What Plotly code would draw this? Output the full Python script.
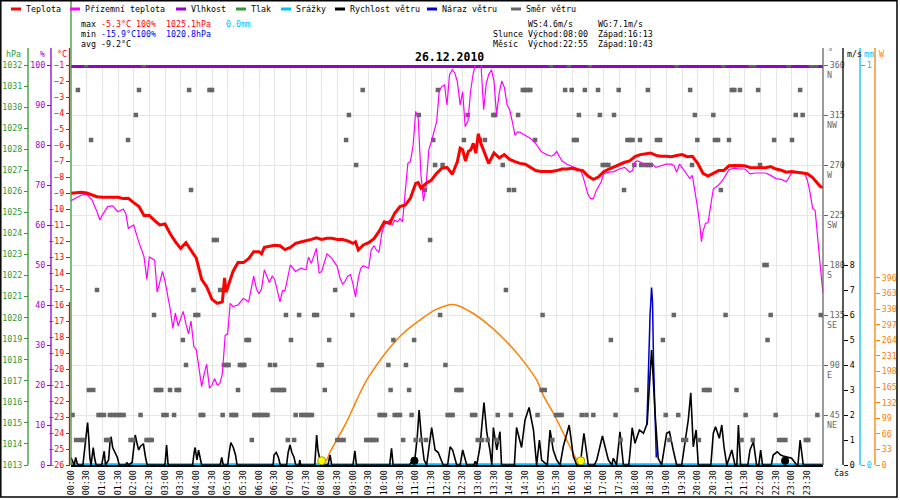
import plotly.graph_objects as go

# --- time axis labels (every 30 minutes) ---
tick_hours = [h / 2 for h in range(48)]
tick_labels = [f"{int(h):02d}:{int(round((h % 1) * 60)):02d}" for h in tick_hours]

# --- Teplota (°C) ---
temp_t = [0.0, 0.17, 0.33, 0.5, 0.67, 0.83, 1.0, 1.17, 1.33, 1.5, 1.67, 1.83, 2.0, 2.17, 2.33, 2.5,
          2.67, 2.83, 3.0, 3.17, 3.33, 3.5, 3.67, 3.83, 4.0, 4.17, 4.33, 4.5, 4.67, 4.83, 4.9, 4.95,
          5.0, 5.17, 5.33, 5.5, 5.67, 5.83, 6.0, 6.08, 6.17, 6.33, 6.5, 6.67, 6.83, 7.0, 7.17, 7.33,
          7.5, 7.67, 7.83, 8.0, 8.17, 8.33, 8.5, 8.67, 8.83, 9.0, 9.08, 9.17, 9.33, 9.5, 9.67, 9.83,
          10.0, 10.17, 10.33, 10.5, 10.67, 10.83, 11.0, 11.08, 11.17, 11.33, 11.5, 11.67, 11.83, 12.0,
          12.17, 12.33, 12.42, 12.5, 12.59, 12.68, 12.76, 12.84, 12.92, 13.0, 13.08, 13.17, 13.33,
          13.5, 13.67, 13.83, 14.0, 14.17, 14.33, 14.5, 14.67, 14.83, 15.0, 15.17, 15.33, 15.5, 15.67,
          15.83, 16.0, 16.17, 16.33, 16.5, 16.67, 16.83, 17.0, 17.17, 17.33, 17.5, 17.67, 17.83, 18.0,
          18.17, 18.33, 18.5, 18.67, 18.83, 19.0, 19.17, 19.33, 19.5, 19.67, 19.83, 20.0, 20.17, 20.33,
          20.5, 20.67, 20.83, 21.0, 21.17, 21.33, 21.5, 21.67, 21.83, 22.0, 22.17, 22.33, 22.5, 22.67,
          22.83, 23.0, 23.17, 23.33, 23.5, 23.67, 23.83, 23.92, 24.0]
temp_c = [-9.02, -9.0, -8.96, -9.0, -9.13, -9.23, -9.27, -9.27, -9.3, -9.27, -9.35, -9.33, -9.6, -9.85,
          -10.4, -10.4, -10.73, -11.0, -10.94, -11.56, -12.04, -12.46, -12.1, -12.56, -13.08, -14.4,
          -14.85, -15.65, -15.9, -15.8, -14.3, -15.2, -14.9, -13.9, -13.35, -13.35, -13.1, -12.67,
          -12.67, -12.8, -12.4, -12.35, -12.27, -12.3, -12.54, -12.4, -12.15, -12.06, -12.0, -11.9,
          -11.8, -11.9, -11.83, -11.83, -11.9, -11.9, -12.0, -12.15, -12.05, -12.56, -12.25, -12.1,
          -11.85, -11.4, -10.8, -10.9, -10.27, -9.85, -9.75, -9.33, -8.4, -8.35, -8.7, -8.4, -8.2,
          -7.77, -7.46, -7.4, -7.83, -7.04, -6.2, -6.3, -7.0, -6.4, -6.3, -5.9, -6.5, -5.3, -5.9,
          -6.4, -7.15, -6.5, -6.8, -6.6, -6.9, -7.04, -7.15, -7.2, -7.4, -7.6, -7.65, -7.65, -7.65,
          -7.6, -7.5, -7.5, -7.46, -7.55, -7.6, -7.94, -8.15, -8.0, -7.67, -7.5, -7.35, -7.2, -7.08,
          -7.0, -6.73, -6.6, -6.54, -6.5, -6.65, -6.7, -6.7, -6.73, -6.65, -6.6, -6.73, -6.7, -7.15,
          -7.77, -7.94, -7.77, -7.6, -7.6, -7.3, -7.28, -7.3, -7.3, -7.4, -7.42, -7.42, -7.42, -7.35,
          -7.5, -7.58, -7.7, -7.65, -7.68, -7.75, -7.8, -8.04, -8.4, -8.6, -8.65]

# --- Přízemní teplota (°C) ---
ground_t = [0.0, 0.17, 0.33, 0.5, 0.67, 0.83, 0.92, 1.0, 1.17, 1.33, 1.5, 1.67, 1.75, 1.83, 2.0, 2.17,
            2.33, 2.42, 2.5, 2.67, 2.75, 2.83, 2.92, 3.0, 3.17, 3.25, 3.33, 3.42, 3.5, 3.58, 3.67,
            3.75, 3.83, 3.92, 4.0, 4.08, 4.17, 4.25, 4.33, 4.42, 4.5, 4.58, 4.67, 4.75, 4.83, 4.92,
            5.0, 5.08, 5.17, 5.33, 5.5, 5.67, 5.83, 5.92, 6.0, 6.08, 6.17, 6.33, 6.42, 6.5, 6.67,
            6.75, 6.83, 7.0, 7.17, 7.33, 7.5, 7.58, 7.67, 7.83, 7.92, 8.0, 8.08, 8.17, 8.33, 8.5,
            8.58, 8.67, 8.75, 8.83, 8.92, 9.0, 9.08, 9.17, 9.25, 9.33, 9.5, 9.58, 9.67, 9.75, 9.83,
            9.92, 10.0, 10.17, 10.25, 10.33, 10.42, 10.5, 10.58, 10.67, 10.75, 10.83, 10.92, 11.0,
            11.08, 11.17, 11.25, 11.33, 11.42, 11.5, 11.58, 11.67, 11.75, 11.83, 11.92, 12.0, 12.08,
            12.17, 12.25, 12.33, 12.42, 12.5, 12.58, 12.67, 12.75, 12.83, 12.92, 13.0, 13.08, 13.17,
            13.25, 13.33, 13.42, 13.5, 13.58, 13.67, 13.75, 13.83, 13.92, 14.0, 14.08, 14.17, 14.25,
            14.33, 14.5, 14.67, 14.83, 15.0, 15.17, 15.33, 15.42, 15.5, 15.58, 15.67, 15.83, 16.0,
            16.17, 16.25, 16.33, 16.42, 16.5, 16.58, 16.67, 16.75, 16.83, 16.92, 17.0, 17.17, 17.33,
            17.5, 17.67, 17.75, 17.83, 17.92, 18.0, 18.08, 18.17, 18.33, 18.5, 18.58, 18.67, 18.83,
            19.0, 19.17, 19.25, 19.33, 19.42, 19.5, 19.67, 19.75, 19.83, 19.92, 20.0, 20.08, 20.12,
            20.17, 20.25, 20.33, 20.42, 20.5, 20.67, 20.83, 21.0, 21.17, 21.33, 21.5, 21.58, 21.67,
            21.83, 22.0, 22.17, 22.33, 22.5, 22.67, 22.83, 23.0, 23.17, 23.33, 23.42, 23.5, 23.58,
            23.67, 23.75, 23.83, 23.92, 24.0]
ground_c = [-9.48, -9.3, -9.13, -9.08, -9.42, -10.17, -10.69, -10.38, -9.85, -9.8, -10.17, -10.0,
            -10.3, -11.2, -11.0, -12.1, -12.98, -14.4, -13.0, -13.2, -15.2, -14.6, -13.9, -14.5,
            -16.3, -17.46, -16.5, -17.3, -16.9, -16.4, -17.2, -17.8, -17.0, -18.6, -18.8, -19.85,
            -21.1, -20.3, -19.7, -21.2, -21.0, -20.6, -21.0, -20.9, -20.3, -17.9, -17.8, -15.9,
            -16.1, -16.0, -15.6, -15.8, -14.2, -15.0, -15.3, -15.0, -13.8, -14.6, -14.2, -14.4,
            -15.8, -15.1, -15.1, -13.5, -13.9, -13.7, -13.8, -13.0, -13.4, -12.46, -14.0, -13.9,
            -13.4, -12.8, -13.1, -13.6, -14.3, -14.7, -14.5, -14.2, -14.1, -14.7, -15.5, -14.3,
            -13.7, -13.55, -13.7, -12.56, -12.3, -12.56, -12.7, -11.5, -11.0, -10.7, -11.0, -10.7,
            -10.8, -10.6, -10.8, -9.1, -7.15, -7.04, -6.0, -3.9, -4.3, -7.9, -9.5, -8.6, -6.3, -5.8,
            -5.2, -4.54, -2.67, -2.35, -2.25, -3.5, -1.6, -1.3, -1.5, -2.04, -3.5, -2.67, -4.85,
            -4.5, -2.67, -1.6, -0.8, -0.9, -0.8, -3.8, -2.2, -1.6, -1.3, -2.0, -4.1, -2.7, -2.0,
            -2.4, -3.5, -3.8, -4.5, -5.4, -5.2, -5.2, -5.4, -5.6, -5.9, -6.4, -6.6, -6.7, -6.6,
            -6.4, -6.7, -7.0, -7.2, -7.35, -7.5, -7.55, -7.9, -8.5, -9.1, -9.35, -9.35, -8.9, -8.6,
            -8.3, -7.8, -7.7, -7.66, -7.5, -7.4, -7.55, -7.7, -7.6, -7.06, -7.0, -7.06, -7.25, -7.3,
            -7.25, -7.4, -7.3, -7.2, -7.2, -7.3, -7.7, -7.2, -7.4, -7.9, -8.1, -7.9, -8.9, -9.96,
            -11.2, -12.04, -11.4, -10.9, -10.85, -9.8, -8.75, -8.5, -8.1, -7.55, -7.45, -7.5, -7.5,
            -7.62, -7.8, -7.75, -7.75, -7.75, -7.9, -8.1, -8.15, -8.3, -7.75, -7.7, -7.7, -7.8,
            -8.2, -8.9, -9.96, -10.1, -11.6, -13.7, -15.27]

# --- Vlhkost (%) ---
hum_t = [0.0, 24.0]
hum_pct = [100, 100]

# --- Srážky (mm) ---
rain_t = [0.0, 24.0]
rain_mm = [0.0, 0.0]

# --- Rychlost větru (m/s) ---
wind_t = [0.0, 0.05, 0.1, 0.15, 0.2, 0.25, 0.38, 0.45, 0.5, 0.53, 0.57, 0.6, 0.64, 0.68, 0.71, 0.75,
          0.8, 0.98, 1.03, 1.06, 1.1, 1.2, 1.25, 1.28, 1.33, 1.4, 1.48, 1.54, 1.75, 1.78, 1.84, 1.95,
          2.0, 2.05, 2.1, 2.16, 2.22, 2.31, 2.38, 2.43, 3.0, 3.05, 3.1, 3.88, 3.93, 3.96, 4.02, 4.07,
          4.12, 4.17, 4.76, 4.81, 4.86, 5.0, 5.05, 5.1, 5.18, 5.25, 5.3, 6.45, 6.48, 6.55, 6.62,
          6.68, 6.88, 6.93, 6.99, 7.05, 7.12, 7.17, 7.28, 7.3, 7.33, 7.78, 7.84, 7.88, 7.93, 7.98,
          8.2, 8.27, 8.32, 9.0, 9.06, 9.11, 10.17, 10.23, 10.28, 10.8, 10.88, 10.98, 11.05, 11.11,
          11.19, 11.27, 11.35, 11.46, 11.51, 11.62, 11.72, 11.83, 11.88, 12.02, 12.1, 12.18, 12.31,
          12.42, 12.5, 12.63, 12.86, 12.9, 12.95, 13.05, 13.18, 13.27, 13.37, 13.43, 13.48, 13.59,
          13.69, 13.74, 14.15, 14.22, 14.38, 14.49, 14.62, 14.76, 14.86, 14.95, 15.02, 15.2, 15.29,
          15.39, 15.5, 15.61, 15.71, 15.9, 16.03, 16.14, 16.25, 16.37, 16.51, 16.7, 16.78, 16.96,
          17.15, 17.26, 17.31, 17.41, 17.52, 17.63, 17.8, 17.84, 17.91, 18.0, 18.14, 18.27, 18.39,
          18.45, 18.53, 18.58, 18.64, 18.74, 18.85, 19.01, 19.1, 19.22, 19.33, 19.49, 19.7, 19.78,
          19.86, 19.95, 20.02, 20.42, 20.5, 20.57, 20.69, 20.77, 20.84, 20.93, 21.03, 21.09, 21.19,
          21.25, 21.3, 21.37, 21.6, 21.67, 21.78, 21.88, 21.95, 22.01, 22.07, 22.35, 22.41, 22.54,
          22.65, 22.73, 23.0, 23.16, 23.2, 23.27, 23.37, 24.0]
wind_ms = [0.3, 0.1, 0.0, 0.3, 0.05, 0.0, 0.0, 0.8, 1.5, 1.7, 1.0, 0.3, 0.0, 0.5, 0.7, 0.3,
           0.0, 0.0, 0.4, 0.55, 0.0, 0.2, 1.0, 1.13, 0.7, 0.5, 0.3, 0.0, 0.0, 0.1, 0.0, 0.1,
           0.6, 1.2, 0.9, 0.6, 0.75, 0.85, 0.3, 0.0, 0.0, 0.8, 0.0, 0.0, 0.5, 0.7, 0.2, 0.6,
           0.3, 0.0, 0.0, 0.3, 0.0, 0.0, 0.5, 0.9, 0.7, 0.4, 0.0, 0.0, 0.4, 0.5, 0.3,
           0.0, 0.0, 0.5, 0.8, 0.5, 0.3, 0.0, 0.0, 0.2, 0.0, 0.0, 1.2, 0.6, 0.3, 0.0,
           0.0, 0.4, 0.0, 0.0, 0.57, 0.0, 0.0, 0.67, 0.0, 0.0, 0.15, 0.3, 1.1, 2.2,
           1.0, 0.2, 0.0, 1.2, 1.5, 0.6, 0.5, 0.15, 0.0, 0.0, 0.73, 0.6, 0.0,
           0.0, 0.6, 0.0, 0.0, 0.15, 0.0, 0.7, 2.5, 1.3, 0.6, 0.0, 1.5, 0.6,
           1.33, 0.0, 0.0, 1.5, 0.7, 1.8, 2.3, 1.4, 0.0, 1.0, 0.2, 0.0, 1.4,
           0.6, 0.2, 0.0, 0.73, 1.6, 0.36, 0.0, 0.0, 1.27, 0.0, 0.0, 0.2, 1.16,
           0.2, 0.0, 0.27, 0.0, 1.33, 0.0, 0.0, 0.47, 1.49, 0.87, 1.4, 1.27, 1.67,
           3.0, 4.6, 3.5, 2.07, 0.27, 0.0, 1.27, 1.33, 0.6, 0.0, 0.0, 1.8, 2.89,
           0.73, 1.4, 0.0, 0.0, 1.27, 1.53, 1.07, 1.6, 0.73, 0.0, 0.36, 0.6, 0.0,
           0.0, 1.6, 0.0, 0.0, 0.6, 0.93, 0.0, 0.0, 0.6, 0.0, 0.0, 0.4, 0.53,
           0.4, 0.36, 0.27, 0.0, 0.0, 1.0, 0.0, 0.0]

# --- Náraz větru (m/s), visible only where it exceeds the mean speed ---
gust_t = [18.38, 18.42, 18.48, 18.53, 18.56, 18.59, 18.63, 18.68]
gust_ms = [1.6, 3.3, 6.0, 7.1, 6.5, 4.2, 2.5, 0.3]

# --- Směr větru (°) ---
dir_t = [0.0, 0.05, 0.16, 0.22, 0.29, 0.39, 0.48, 0.57, 0.64, 0.71, 0.83, 0.88, 0.96, 1.05, 1.12,
         1.2, 1.24, 1.35, 1.43, 1.52, 1.6, 1.68, 1.82, 1.9, 1.99, 2.07, 2.17, 2.22, 2.33, 2.41, 2.5,
         2.58, 2.65, 2.71, 2.8, 2.88, 2.95, 3.05, 3.16, 3.29, 3.37, 3.45, 3.57, 3.67, 3.77, 3.83,
         3.91, 3.97, 4.06, 4.14, 4.22, 4.42, 4.5, 4.56, 4.65, 4.76, 4.84, 4.88, 4.97, 5.03, 5.12,
         5.2, 5.27, 5.33, 5.39, 5.47, 5.53, 5.6, 5.68, 5.77, 5.85, 5.93, 6.02, 6.1, 6.18, 6.27,
         6.35, 6.44, 6.51, 6.56, 6.64, 6.72, 6.8, 6.86, 6.92, 7.02, 7.12, 7.17, 7.28, 7.35, 7.43,
         7.52, 7.6, 7.69, 7.76, 7.85, 7.91, 8.0, 8.1, 8.24, 8.43, 8.5, 8.6, 8.7, 8.78, 8.87, 8.98,
         9.1, 9.31, 9.42, 9.5, 9.58, 9.67, 9.75, 9.85, 9.93, 10.02, 10.13, 10.2, 10.29, 10.33,
         10.42, 10.5, 10.6, 10.69, 10.79, 10.87, 10.95, 11.0, 11.1, 11.17, 11.29, 11.33, 11.46,
         11.56, 11.62, 11.71, 11.78, 11.86, 11.95, 12.02, 12.1, 12.18, 12.3, 12.38, 12.46, 12.54,
         12.66, 12.8, 12.9, 12.98, 13.05, 13.12, 13.21, 13.3, 13.48, 13.54, 13.6, 13.62, 13.78,
         13.88, 13.98, 14.04, 14.14, 14.27, 14.42, 14.5, 14.58, 14.66, 14.81, 14.89, 15.02, 15.05,
         15.12, 15.32, 15.36, 15.48, 15.57, 15.66, 15.77, 15.89, 15.98, 16.05, 16.14, 16.21, 16.3,
         16.4, 16.45, 16.56, 16.67, 16.82, 16.88, 16.97, 17.06, 17.15, 17.23, 17.33, 17.38, 17.48,
         17.54, 17.65, 17.76, 17.84, 17.92, 17.98, 18.05, 18.16, 18.2, 18.33, 18.41, 18.42, 18.5,
         18.7, 18.8, 18.89, 18.98, 19.1, 19.24, 19.33, 19.38, 19.54, 19.63, 19.76, 19.82, 19.91,
         19.99, 20.04, 20.2, 20.3, 20.38, 20.5, 20.55, 20.65, 20.74, 20.82, 20.89, 21.0, 21.09,
         21.17, 21.24, 21.35, 21.4, 21.53, 21.7, 21.76, 21.8, 21.93, 21.99, 22.13, 22.2, 22.23,
         22.33, 22.44, 22.49, 22.6, 22.7, 22.8, 22.91, 23.01, 23.13, 23.27, 23.35, 23.45, 23.53,
         23.62, 23.7, 23.78, 23.82, 23.93]
dir_deg = [0, 45, 22.5, 337.5, 22.5, 22.5, 360, 67.5, 292.5, 67.5, 157.5, 45, 45, 45, 22.5,
           22.5, 45, 45, 45, 45, 45, 45, 292.5, 22.5, 22.5, 315, 337.5, 45, 360, 22.5, 22.5,
           22.5, 135, 67.5, 67.5, 67.5, 45, 45, 67.5, 45, 67.5, 67.5, 112.5, 90, 337.5, 247.5,
           157.5, 135, 135, 45, 45, 337.5, 337.5, 202.5, 202.5, 157.5, 45, 90, 90, 90, 45,
           45, 45, 67.5, 90, 90, 90, 112.5, 112.5, 22.5, 45, 45, 45, 45, 45, 45,
           90, 67.5, 90, 67.5, 67.5, 67.5, 67.5, 135, 22.5, 112.5, 22.5, 45, 135, 45, 45,
           45, 45, 45, 135, 135, 90, 90, 67.5, 112.5, 157.5, 22.5, 22.5, 22.5, 292.5, 315, 135,
           270, 337.5, 22.5, 22.5, 22.5, 22.5, 22.5, 45, 45, 45, 90, 67.5, 112.5, 45,
           45, 45, 22.5, 90, 67.5, 45, 112.5, 22.5, 315, 22.5, 247.5, 22.5, 202.5,
           292.5, 270, 337.5, 135, 270, 90, 45, 45, 45, 67.5, 67.5, 67.5, 292.5,
           315, 45, 45, 22.5, 292.5, 22.5, 292.5, 22.5, 315, 315, 22.5, 45, 270,
           157.5, 247.5, 45, 247.5, 315, 337.5, 337.5, 337.5, 337.5, 292.5, 45, 67.5, 135,
           67.5, 360, 22.5, 45, 45, 45, 337.5, 360, 337.5, 292.5, 292.5, 315, 45,
           337.5, 45, 360, 45, 337.5, 315, 270, 270, 270, 112.5, 315, 45, 337.5,
           22.5, 247.5, 292.5, 292.5, 292.5, 270, 67.5, 292.5, 270, 270, 337.5, 270, 270,
           292.5, 292.5, 112.5, 45, 22.5, 135, 360, 45, 22.5, 22.5, 337.5, 270, 315,
           292.5, 22.5, 67.5, 67.5, 67.5, 315, 292.5, 292.5, 247.5, 360, 135, 292.5, 337.5,
           337.5, 67.5, 337.5, 22.5, 45, 360, 22.5, 360, 337.5, 270, 180, 180, 112.5,
           135, 292.5, 45, 22.5, 22.5, 22.5, 360, 292.5, 315, 337.5, 315, 22.5, 22.5,
           360, 360, 360, 45, 135]

# --- Sluneční záření (W) ---
sun_t = [8.0, 8.16, 8.27, 8.48, 8.8, 9.12, 9.22, 9.44, 9.54, 10.07, 10.6, 11.14, 11.67, 12.2,
         12.73, 13.27, 13.8, 14.33, 14.86, 15.07, 15.4, 15.82, 16.14, 16.22]
sun_w = [0, 11, 28, 53, 92, 138, 152, 180, 191, 240, 279, 307, 330, 340,
         325, 300, 268, 229, 180, 148, 109, 53, 10, 0]

# sunrise / sunset and moon markers (hours)
sun_marks_t = [8.0, 16.27]
moon_marks_t = [10.96, 22.79]
mark_level = [0.17, 0.17]

# axis ticks
temp_ticks = list(range(-26, 0))
hum_ticks = list(range(0, 101, 10))
pres_ticks = list(range(1013, 1033))
dir_ticks = [45, 90, 135, 180, 225, 270, 315, 360]
dir_names = ["NE", "E", "SE", "S", "SW", "W", "NW", "N"]
ws_ticks = list(range(0, 9))
rad_ticks = [0, 33, 66, 99, 132, 165, 198, 231, 264, 297, 330, 363, 396]

RED = "#ff0000"
MAGENTA = "#ff00ff"
PURPLE = "#9900cc"
GREEN = "#339933"
CYAN = "#00bfff"
BLUE = "#0000cc"
GRAY = "#666666"
ORANGE = "#ff8000"
GRID = "#e6e6e6"
MONO = "DejaVu Sans Mono"
FS = 8.3

W, H = 900, 500


def X(p):
    return p / W


def Y(p):
    return 1 - p / H


fig = go.Figure()

# layering follows axis order: y (W) < y2 (mm) < y3 (m/s) < y4 (%) < y5 (°) < y6 (hPa) < y7 (°C)
fig.add_trace(go.Scatter(x=sun_t, y=sun_w, mode="lines", yaxis="y",
                         line=dict(color=ORANGE, width=1.5, shape="spline")))
fig.add_trace(go.Scatter(x=rain_t, y=rain_mm, mode="lines", yaxis="y2",
                         line=dict(color=CYAN, width=3.5)))
fig.add_trace(go.Scatter(x=gust_t, y=gust_ms, mode="lines", yaxis="y3",
                         line=dict(color=BLUE, width=1.5)))
fig.add_trace(go.Scatter(x=wind_t, y=wind_ms, mode="lines", yaxis="y3",
                         line=dict(color="black", width=1.6)))
fig.add_trace(go.Scatter(x=sun_marks_t, y=mark_level, mode="markers", yaxis="y3",
                         marker=dict(color="#ffff00", size=8, line=dict(color="#999900", width=1))))
fig.add_trace(go.Scatter(x=moon_marks_t, y=mark_level, mode="markers", yaxis="y3",
                         marker=dict(color="black", size=8)))
fig.add_trace(go.Scatter(x=hum_t, y=hum_pct, mode="lines", yaxis="y4",
                         line=dict(color=PURPLE, width=6)))
fig.add_trace(go.Scatter(x=dir_t, y=dir_deg, mode="markers", yaxis="y5",
                         marker=dict(symbol="square", color=GRAY, size=4.5, line=dict(width=0))))
fig.add_trace(go.Scatter(x=[], y=[], mode="lines", yaxis="y6", line=dict(color=GREEN)))
fig.add_trace(go.Scatter(x=ground_t, y=ground_c, mode="lines", yaxis="y7",
                         line=dict(color=MAGENTA, width=1.2)))
fig.add_trace(go.Scatter(x=temp_t, y=temp_c, mode="lines", yaxis="y7",
                         line=dict(color=RED, width=3)))

ydom = [Y(465), Y(65)]


def side_axis(pos, side, rng, vals, color, text=None, overlay=True):
    ax = dict(domain=ydom, range=rng, anchor="free", position=pos, side=side,
              tickvals=vals, ticks="outside", ticklen=4, tickcolor=color, tickwidth=1,
              tickfont=dict(family=MONO, size=FS, color=color), automargin=False,
              showgrid=False, zeroline=False, showline=False, fixedrange=True)
    if text is not None:
        ax["ticktext"] = text
    if overlay:
        ax["overlaying"] = "y"
    return ax


layout = dict(
    template="none", autosize=False,
    width=W, height=H, margin=dict(l=0, r=0, t=0, b=0, pad=0),
    paper_bgcolor="white", plot_bgcolor="white", showlegend=False,
    xaxis=dict(domain=[X(71), X(823)], range=[0, 24], anchor="y", automargin=False,
               tickvals=tick_hours, ticktext=tick_labels, tickangle=-90,
               tickfont=dict(family=MONO, size=FS, color="black"), fixedrange=True,
               showgrid=True, gridcolor=GRID, gridwidth=1, zeroline=False,
               showline=True, linecolor="black", linewidth=2, ticks=""),
    yaxis=side_axis(X(875), "right", [0, 847], rad_ticks, ORANGE, overlay=False),
    yaxis2=side_axis(X(860), "right", [0, 1], [0, 1], CYAN),
    yaxis3=side_axis(X(843), "right", [0, 16], ws_ticks, "black"),
    yaxis4=side_axis(X(51), "left", [0, 100], hum_ticks, PURPLE),
    yaxis5=side_axis(X(823), "right", [0, 360], dir_ticks, GRAY, [str(v) for v in dir_ticks]),
    yaxis6=side_axis(X(28), "left", [1013, 1032], pres_ticks, GREEN),
    yaxis7=side_axis(X(70), "left", [-26, -1], temp_ticks, RED),
)
layout["yaxis5"].update(showgrid=True, gridcolor=GRID, gridwidth=1)
fig.update_layout(**layout)

shapes = []
# axis lines (reach a little above the plot area)
for xp, col, y0, y1 in [(28, GREEN, 465, 48), (51, PURPLE, 465, 48), (69.5, RED, 150, 48),
                        (69.5, RED, 465, 302), (71, GREEN, 465, 0), (823, GRAY, 465, 48),
                        (843, "black", 465, 48), (860, CYAN, 465, 48), (875, ORANGE, 465, 48)]:
    shapes.append(dict(type="line", xref="paper", yref="paper", x0=X(xp), x1=X(xp),
                       y0=Y(y0), y1=Y(y1), line=dict(color=col, width=1.3)))
# frame
shapes.append(dict(type="rect", xref="paper", yref="paper", x0=X(0.8), x1=X(897), y0=Y(497),
                   y1=Y(0.8), line=dict(color="black", width=1.5)))

annotations = []

# legend row
legend_items = [("Teplota", RED, 25), ("Přízemní teplota", MAGENTA, 84), ("Vlhkost", PURPLE, 190),
                ("Tlak", GREEN, 250), ("Srážky", CYAN, 295), ("Rychlost větru", "black", 349),
                ("Náraz větru", BLUE, 441), ("Směr větru", GRAY, 525)]
for name, col, xs in legend_items:
    shapes.append(dict(type="line", xref="paper", yref="paper", x0=X(xs - 14), x1=X(xs - 4),
                       y0=Y(9), y1=Y(9), line=dict(color=col, width=3)))
    annotations.append(dict(x=X(xs - 1), y=Y(9), xref="paper", yref="paper", text=name,
                            showarrow=False, xanchor="left", yanchor="middle",
                            font=dict(family=MONO, size=FS, color="black")))


def txt(x, y, text, color="black", size=FS, anchor="left"):
    annotations.append(dict(x=X(x), y=Y(y), xref="paper", yref="paper", text=text,
                            showarrow=False, xanchor=anchor, yanchor="middle",
                            font=dict(family=MONO, size=size, color=color)))


sp = "\u00a0"
txt(79, 24, f"max{sp}<span style='color:{RED}'>-5.3°C{sp}100%{sp*2}1025.1hPa</span>"
            f"{sp*3}<span style='color:{CYAN}'>0.0mm</span>")
txt(79, 34, f"min{sp}<span style='color:#0000ff'>-15.9°C100%{sp*2}1020.8hPa</span>")
txt(79, 44, f"avg{sp}-9.2°C")
txt(526, 24, f"WS:4.6m/s{sp*5}WG:7.1m/s")
txt(491, 34, f"Slunce{sp}Východ:08:00{sp*2}Západ:16:13")
txt(491, 44, f"Měsíc{sp*2}Východ:22:55{sp*2}Západ:10:43")
txt(449, 57, "<b>26.12.2010</b>", size=11.5, anchor="center")

# axis unit labels
txt(13, 54, "hPa", GREEN, anchor="center")
txt(42, 54, "%", PURPLE, anchor="center")
txt(62, 54, "°C", RED, anchor="center")
txt(826, 52, "°", GRAY)
txt(845, 54, "m/s", "black")
txt(862, 54, "mm", CYAN)
txt(877, 54, "W", ORANGE)
txt(832, 473, "čas", "black")

# compass letters under direction ticks
for v, n in zip(dir_ticks, dir_names):
    annotations.append(dict(x=X(825), y=v, xref="paper", yref="y5", yshift=-10, text=n,
                            showarrow=False, xanchor="left", yanchor="middle",
                            font=dict(family=MONO, size=FS, color=GRAY)))

fig.update_layout(shapes=shapes, annotations=annotations)

# the page body keeps a default 8px margin; drop it so the 900x500 figure fills the window
fig.write_html("out.html", config={"displayModeBar": False},
               post_script="document.body.style.margin='0px';")
